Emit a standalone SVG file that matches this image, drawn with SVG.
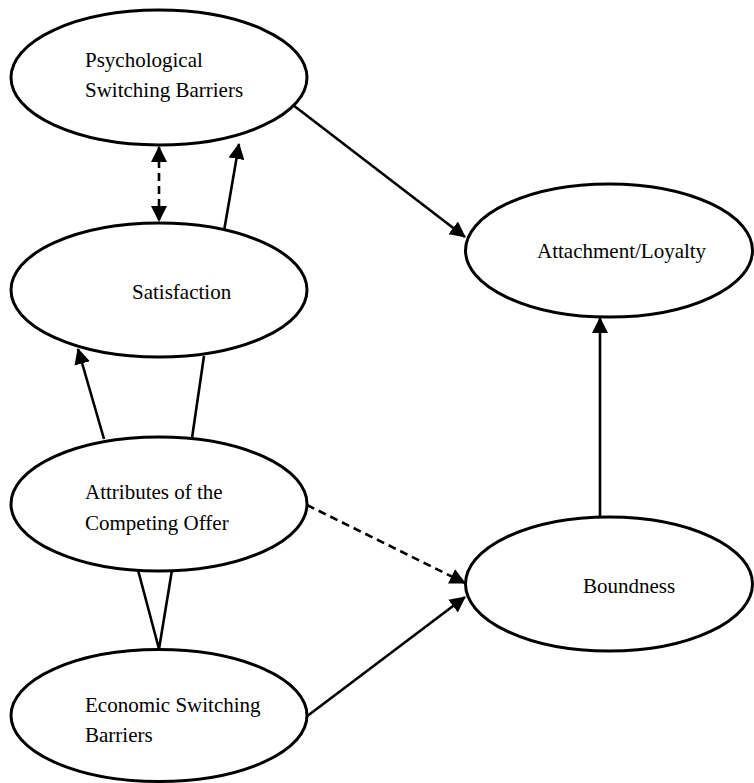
<svg xmlns="http://www.w3.org/2000/svg" width="754" height="783" viewBox="0 0 754 783">
<style>
.node ellipse{fill:#fff;stroke:#000;stroke-width:3}
.edge{stroke:#000;stroke-width:2.6;fill:none}
.dash{stroke-dasharray:8 5}
</style>
<defs>
<marker id="arr" markerUnits="userSpaceOnUse" markerWidth="16" markerHeight="16" refX="15" refY="8" orient="auto-start-reverse" viewBox="0 0 16 16">
<path d="M0,0 L16,8 L0,16 z" fill="#000"/>
</marker>
</defs>
<rect width="754" height="783" fill="#fff"/>
<g id="connectors">
<line class="edge" x1="293" y1="105" x2="465" y2="237" marker-end="url(#arr)"/>
<line class="edge dash" x1="159" y1="147" x2="159" y2="221" marker-start="url(#arr)" marker-end="url(#arr)"/>
<line class="edge" x1="224" y1="231" x2="239" y2="144" marker-end="url(#arr)"/>
<line class="edge" x1="104" y1="439" x2="78" y2="349" marker-end="url(#arr)"/>
<line class="edge" x1="204" y1="356" x2="192" y2="438"/>
<polyline class="edge" points="138,570 159,649 172,570"/>
<line class="edge dash" x1="307" y1="505" x2="465" y2="583" marker-end="url(#arr)"/>
<line class="edge" x1="306" y1="717" x2="465" y2="597" marker-end="url(#arr)"/>
<line class="edge" x1="600" y1="517" x2="600" y2="318" marker-end="url(#arr)"/>
</g>
<g font-family="Liberation Serif, Times New Roman, serif" font-size="21" fill="#000">
<g id="psych" class="node">
<ellipse cx="159" cy="77.5" rx="148" ry="67.5"/>
<text x="85" y="67">Psychological</text>
<text x="85" y="97">Switching Barriers</text>
</g>
<g id="satisfaction" class="node">
<ellipse cx="159" cy="290" rx="148" ry="67"/>
<text x="132" y="299">Satisfaction</text>
</g>
<g id="attributes" class="node">
<ellipse cx="159" cy="504" rx="148" ry="67"/>
<text x="85" y="499">Attributes of the</text>
<text x="85" y="530">Competing Offer</text>
</g>
<g id="economic" class="node">
<ellipse cx="159" cy="715.5" rx="148" ry="66"/>
<text x="85" y="712">Economic Switching</text>
<text x="85" y="742">Barriers</text>
</g>
<g id="attachment" class="node">
<ellipse cx="609" cy="250.5" rx="143.5" ry="66.5"/>
<text x="537" y="258">Attachment/Loyalty</text>
</g>
<g id="boundness" class="node">
<ellipse cx="609" cy="584" rx="143.5" ry="67"/>
<text x="583" y="593">Boundness</text>
</g>
</g>
</svg>
